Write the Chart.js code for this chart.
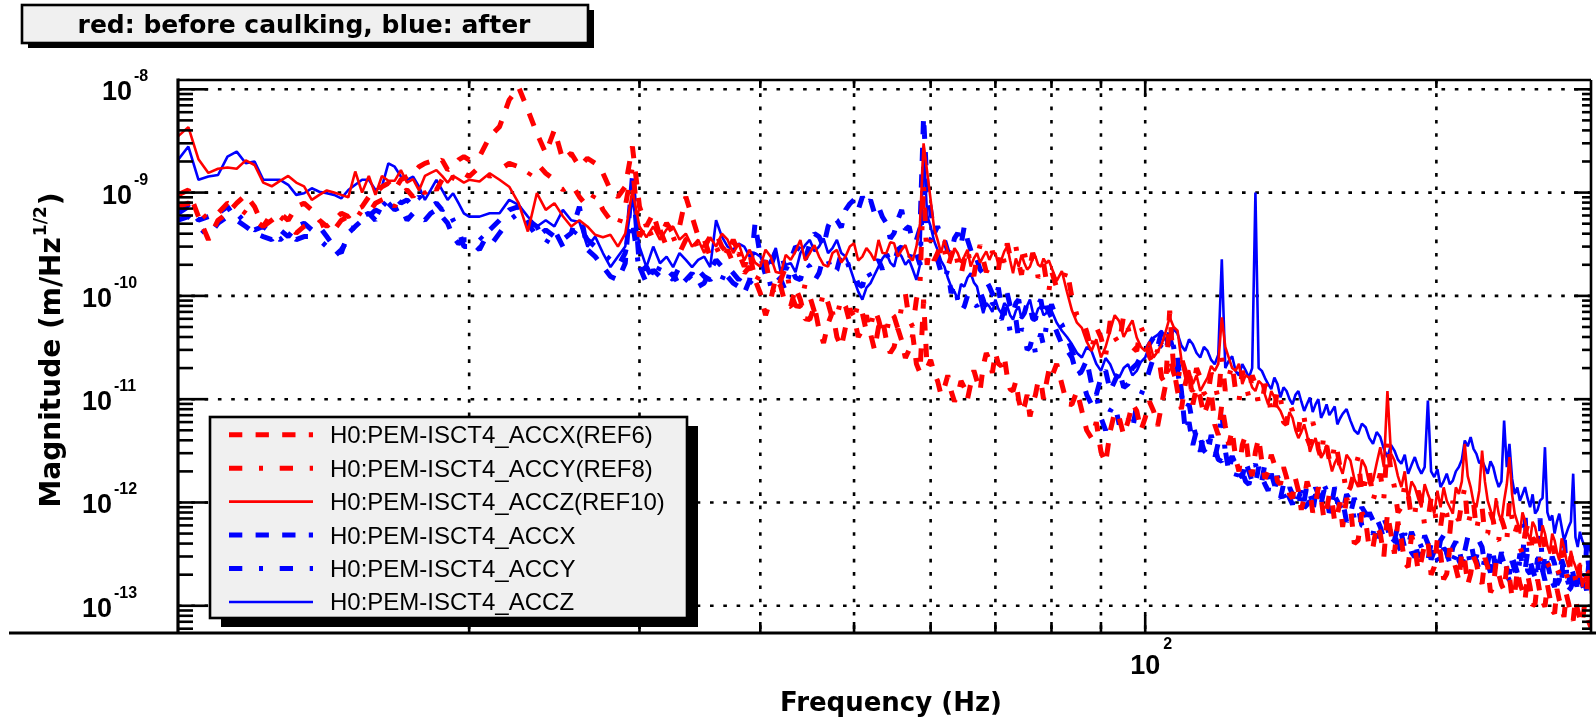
<!DOCTYPE html>
<html>
<head>
<meta charset="utf-8">
<script src="https://cdn.jsdelivr.net/npm/chart.js@4.4.1/dist/chart.umd.min.js"></script>
<style>
html,body{margin:0;padding:0;background:#ffffff;}
canvas{display:block;}
</style>
</head>
<body>
<canvas id="c" width="1596" height="722"></canvas>
<script>
// ---------- texts ----------
const titleText = "red: before caulking, blue: after";
const xTitle = "Frequency (Hz)";
const yTitleMain = "Magnitude (m/Hz";
const yTitleSup = "1/2";
const yTitleEnd = ")";
const legendLabels = [
  "H0:PEM-ISCT4_ACCX(REF6)",
  "H0:PEM-ISCT4_ACCY(REF8)",
  "H0:PEM-ISCT4_ACCZ(REF10)",
  "H0:PEM-ISCT4_ACCX",
  "H0:PEM-ISCT4_ACCY",
  "H0:PEM-ISCT4_ACCZ"
];

// ---------- axes ----------
const yDecades = [-8, -9, -10, -11, -12, -13];   // labelled y ticks 10^n
const xLabelDecades = [2];                       // labelled x ticks 10^n
const xGridHz = [20, 30, 40, 50, 60, 70, 80, 90, 100, 200];
const xRange = [10, 289];
const yRange = [5.45e-14, 1.23e-8];

// ---------- data: main frequency bins (Hz) ----------
const freqHz = [
 10,10.25,10.5,10.75,11,11.25,11.5,11.75,12,12.25,12.5,12.75,13,13.25,13.5,13.75,14,14.25,14.5,14.75,
 15,15.25,15.5,15.75,16,16.25,16.5,16.75,17,17.25,17.5,17.75,18,18.25,18.5,18.75,19,19.25,19.5,19.75,
 20,20.5,21,21.5,22,22.5,23,23.5,24,24.5,25,25.5,26,26.5,27,27.5,28,28.5,29,29.5,
 30,30.5,31,31.5,32,32.5,33,33.5,34,34.5,35,35.5,36,36.5,37,37.5,38,38.5,39,39.5,
 40,41,42,43,44,45,46,47,48,49,50,51,52,53,54,55,56,57,58,59,
 60,61,62,63,64,65,66,67,68,69,70,71,72,73,74,75,76,77,78,79,
 80,82,84,86,88,90,92,94,96,98,100,102,104,106,108,110,112,114,116,118,
 120,122,124,126,128,130,132,134,136,138,140,142,144,146,148,150,152,154,156,158,
 160,163,166,169,172,175,178,181,184,187,190,193,196,199,202,205,208,211,214,217,220,223,
 226,229,232,235,238,241,244,247,250,253,256,259,262,265,268,271,274,277,280,283,286,289
];
// ---------- data: extra in-between bins above 40 Hz (Hz) ----------
const freqMidHz = [
 40.5,41.5,42.5,43.5,44.5,45.5,46.5,47.5,48.5,49.5,50.5,51.5,52.5,53.5,54.5,55.5,56.5,57.5,58.5,59.5,
 60.5,61.5,62.5,63.5,64.5,65.5,66.5,67.5,68.5,69.5,70.5,71.5,72.5,73.5,74.5,75.5,76.5,77.5,78.5,79.5,
 81,83,85,87,89,91,93,95,97,99,101,103,105,107,109,111,113,115,117,119,
 121,123,125,127,129,131,133,135,137,139,141,143,145,147,149,151,153,155,157,159,
 161.5,164.5,167.5,170.5,173.5,176.5,179.5,182.5,185.5,188.5,191.5,194.5,197.5,200.5,203.5,206.5,209.5,212.5,215.5,218.5,221.5,
 224.5,227.5,230.5,233.5,236.5,239.5,242.5,245.5,248.5,251.5,254.5,257.5,260.5,263.5,266.5,269.5,272.5,275.5,278.5,281.5,284.5,287.5
];

// ---------- magnitudes (m/Hz^1/2) ----------
const redX = [
 9.5e-10,1.06e-9,5.85e-10,3.5e-10,5.4e-10,6.3e-10,7.9e-10,9.5e-10,7.3e-10,4.7e-10,5.4e-10,6.3e-10,5.4e-10,7.3e-10,7.9e-10,6.8e-10,5.4e-10,4.7e-10,5.4e-10,6.3e-10,
 5.85e-10,6.8e-10,7.3e-10,9.1e-10,9.85e-10,1.14e-9,1.23e-9,1.06e-9,1.33e-9,1.43e-9,1.54e-9,1.78e-9,1.92e-9,2.0e-9,1.92e-9,2.07e-9,1.66e-9,1.78e-9,2.07e-9,2.23e-9,
 2.07e-9,2.23e-9,3.48e-9,4.35e-9,7.9e-9,1.05e-8,6.3e-9,3.75e-9,2.4e-9,4.04e-9,2.07e-9,2.4e-9,1.78e-9,2.15e-9,1.92e-9,1.54e-9,1.06e-9,9.1e-10,1.14e-9,2.79e-9,
 7.3e-10,4.7e-10,6.3e-10,3.75e-10,5.05e-10,4.05e-10,4.7e-10,9.1e-10,5.85e-10,3.75e-10,3.0e-10,3.75e-10,4.05e-10,3.0e-10,2.6e-10,3.5e-10,2.6e-10,1.92e-10,2.6e-10,1.43e-10,
 1.06e-10,9.2e-11,1.23e-10,7.9e-11,9.2e-11,5.9e-11,4.7e-11,5.4e-11,4.0e-11,5.0e-11,6.3e-11,4.7e-11,4.3e-11,5.0e-11,3.7e-11,3.2e-11,3.7e-11,3.0e-11,2.2e-11,9.2e-11,
 2.4e-11,1.5e-11,1.3e-11,1.2e-11,1.1e-11,1.3e-11,1.4e-11,1.5e-11,2.1e-11,2.4e-11,2.8e-11,2.1e-11,1.65e-11,1.2e-11,9.8e-12,8.5e-12,6.8e-12,1.1e-11,1.5e-11,1.4e-11,
 1.62e-11,1.4e-11,8.9e-12,7.7e-12,4.2e-12,3.1e-12,4.9e-12,6.6e-12,6.1e-12,7.7e-12,6.6e-12,7.7e-12,8.9e-12,7.2e-11,1.2e-11,1.4e-11,8.9e-12,1.04e-11,8.9e-12,5.7e-12,
 8.9e-12,3.6e-12,2.7e-12,3.6e-12,2.35e-12,3.1e-12,2.5e-12,2.0e-12,2.35e-12,1.5e-12,1.75e-12,1.1e-12,1.3e-12,1.1e-12,1.3e-12,9.6e-13,1.1e-12,8.3e-13,1.03e-12,7.7e-13,
 5.8e-13,9.0e-13,4.3e-13,6.7e-13,3.7e-13,5.0e-13,7.8e-13,3.2e-13,4.3e-13,2.37e-13,3.7e-13,2.75e-13,4.3e-13,2.37e-13,3.2e-13,2.04e-13,2.97e-13,1.76e-13,2.75e-13,2.04e-13,2.56e-13,1.63e-13,
 2.37e-13,1.52e-13,2.04e-13,1.41e-13,1.9e-13,1.31e-13,1.63e-13,1.13e-13,1.52e-13,1.05e-13,1.31e-13,9.8e-14,1.21e-13,8.4e-14,1.13e-13,7.8e-14,1.05e-13,7.2e-14,9.0e-14,6.7e-14,8.4e-14,6.2e-14
];
const redXMid = [
 6.5e-11,1.5e-10,8.0e-11,1.2e-10,6.0e-11,8.0e-11,3.5e-11,7.0e-11,3.2e-11,7.5e-11,4.0e-11,6.5e-11,3.0e-11,6.0e-11,2.8e-11,4.8e-11,2.5e-11,4.2e-11,1.8e-11,2.0e-11,
 1.8e-11,1.1e-11,1.7e-11,9.5e-12,1.5e-11,1.0e-11,1.9e-11,1.2e-11,2.8e-11,1.8e-11,2.2e-11,2.6e-11,1.25e-11,1.5e-11,7.5e-12,1.1e-11,9.0e-12,1.5e-11,1.0e-11,1.9e-11,
 2.2e-11,9.0e-12,1.2e-11,5.0e-12,6.0e-12,2.4e-12,7.5e-12,4.5e-12,9.0e-12,5.0e-12,9.5e-12,5.5e-12,1.4e-11,2.0e-11,8.0e-12,2.0e-11,1.3e-11,7.0e-12,1.2e-11,4.5e-12,
 5.5e-12,5.0e-12,2.0e-12,4.5e-12,1.8e-12,4.2e-12,1.7e-12,2.9e-12,1.6e-12,2.2e-12,1.2e-12,1.7e-12,8.5e-13,1.6e-12,8.0e-13,1.4e-12,7.0e-13,1.2e-12,6.5e-13,1.0e-12,
 1.1e-12,4.0e-13,8.0e-13,3.5e-13,6.0e-13,3.0e-13,5.0e-13,6.5e-13,2.6e-13,4.8e-13,2.2e-13,4.0e-13,2.0e-13,4.5e-13,1.8e-13,3.6e-13,2.3e-13,3.3e-13,1.6e-13,3.0e-13,1.9e-13,
 2.9e-13,1.35e-13,2.6e-13,1.6e-13,2.4e-13,1.2e-13,2.2e-13,1.4e-13,2.0e-13,1.0e-13,1.8e-13,1.1e-13,1.6e-13,9.0e-14,1.45e-13,9.5e-14,1.3e-13,8.0e-14,1.15e-13,7.5e-14,1.0e-13,7.0e-14
];

const redY = [
 7.3e-10,7.9e-10,6.8e-10,5.4e-10,6.3e-10,7.9e-10,7.3e-10,6.3e-10,5.4e-10,4.7e-10,6.3e-10,5.85e-10,5.05e-10,4.05e-10,4.7e-10,5.05e-10,4.7e-10,5.05e-10,4.35e-10,5.4e-10,
 5.85e-10,5.4e-10,6.8e-10,6.3e-10,7.9e-10,8.5e-10,9.1e-10,7.3e-10,9.85e-10,1.06e-9,9.1e-10,1.14e-9,9.85e-10,1.23e-9,1.06e-9,1.33e-9,1.14e-9,1.43e-9,1.33e-9,1.54e-9,
 1.43e-9,1.78e-9,1.43e-9,1.66e-9,1.92e-9,1.78e-9,1.43e-9,1.92e-9,1.54e-9,1.33e-9,1.06e-9,1.23e-9,9.1e-10,7.3e-10,9.85e-10,6.8e-10,5.4e-10,4.7e-10,7.3e-10,1.78e-9,
 3.75e-10,5.05e-10,3.5e-10,4.35e-10,3.0e-10,3.75e-10,2.6e-10,3.5e-10,4.05e-10,2.8e-10,3.5e-10,2.4e-10,3.0e-10,2.23e-10,2.8e-10,2.07e-10,2.6e-10,1.66e-10,1.92e-10,1.33e-10,
 1.66e-10,1.23e-10,1.43e-10,1.06e-10,7.9e-11,9.9e-11,6.8e-11,8.5e-11,6.3e-11,7.9e-11,5.9e-11,6.8e-11,5.0e-11,5.9e-11,4.3e-11,6.3e-11,7.9e-11,5.9e-11,9.2e-11,1.23e-9,
 3.48e-10,2.59e-10,2.79e-10,2.4e-10,2.07e-10,2.23e-10,1.92e-10,2.4e-10,2.23e-10,1.92e-10,2.4e-10,2.79e-10,3.23e-10,2.4e-10,2.07e-10,2.59e-10,1.92e-10,2.23e-10,1.66e-10,1.43e-10,
 1.74e-10,1.3e-10,9.6e-11,6.2e-11,2.93e-11,3.95e-11,5.7e-11,3.4e-11,4.9e-11,2.93e-11,3.95e-11,2.18e-11,1.62e-11,2.53e-11,1.4e-11,1.88e-11,1.2e-11,1.62e-11,1.04e-11,1.4e-11,
 2.53e-11,1.62e-11,1.2e-11,1.88e-11,1.04e-11,1.4e-11,8.9e-12,1.2e-11,7.7e-12,1.04e-11,5.7e-12,7.7e-12,4.9e-12,6.6e-12,3.6e-12,4.9e-12,2.7e-12,3.6e-12,2.35e-12,3.1e-12,
 2.2e-12,1.41e-12,2.75e-12,1.63e-12,1.04e-12,1.9e-12,3.98e-12,1.41e-12,9.0e-13,1.21e-12,7.8e-13,1.04e-12,6.7e-13,9.0e-13,5.8e-13,7.8e-13,1.04e-12,6.7e-13,1.41e-12,7.8e-13,5.4e-13,9.0e-13,
 5.0e-13,6.7e-13,4.3e-13,5.8e-13,1.04e-12,5.0e-13,3.7e-13,5.0e-13,3.2e-13,4.3e-13,2.75e-13,3.7e-13,2.37e-13,3.2e-13,2.04e-13,2.75e-13,1.76e-13,2.37e-13,1.52e-13,1.9e-13,1.31e-13,1.52e-13
];
const redYMid = [
 2.2e-10,1.0e-10,1.9e-10,8.0e-11,1.3e-10,7.0e-11,1.1e-10,6.0e-11,9.5e-11,5.5e-11,8.5e-11,4.5e-11,7.5e-11,4.2e-11,7.0e-11,4.8e-11,1.05e-10,5.0e-11,1.3e-10,2.0e-10,
 2.2e-10,3.3e-10,1.9e-10,3.0e-10,1.6e-10,2.9e-10,1.55e-10,3.1e-10,1.7e-10,2.7e-10,1.8e-10,2.1e-10,2.4e-10,3.0e-10,1.6e-10,2.0e-10,2.6e-10,1.5e-10,2.1e-10,1.1e-10,
 1.2e-10,1.8e-10,6.5e-11,4.5e-11,5.0e-11,2.6e-11,4.0e-11,6.5e-11,3.2e-11,5.0e-11,2.6e-11,3.0e-11,1.4e-11,1.8e-11,2.5e-11,1.3e-11,2.0e-11,1.15e-11,1.8e-11,1.0e-11,
 1.2e-11,2.2e-11,9.5e-12,1.4e-11,1.7e-11,9.0e-12,1.4e-11,7.0e-12,1.25e-11,6.0e-12,9.0e-12,5.5e-12,7.5e-12,4.2e-12,6.0e-12,3.3e-12,4.5e-12,2.6e-12,3.8e-12,2.2e-12,
 1.2e-12,2.0e-12,1.2e-12,2.1e-12,1.4e-12,1.1e-12,2.0e-12,8.0e-13,1.5e-12,7.0e-13,1.3e-12,6.0e-13,1.1e-12,5.5e-13,9.5e-13,5.0e-13,7.5e-13,1.0e-12,6.0e-13,1.0e-12,7.5e-13,
 4.8e-13,8.0e-13,4.5e-13,7.0e-13,4.2e-13,7.0e-13,6.0e-13,3.2e-13,6.0e-13,4.5e-13,3.0e-13,4.6e-13,2.6e-13,3.8e-13,2.3e-13,3.4e-13,2.0e-13,3.0e-13,1.8e-13,2.6e-13,1.5e-13,2.2e-13
];

const redZ = [
 3.5e-9,4.3e-9,2.1e-9,1.55e-9,1.7e-9,1.75e-9,1.7e-9,2.05e-9,1.85e-9,1.25e-9,1.15e-9,1.3e-9,1.45e-9,1.25e-9,1.15e-9,8.5e-10,9.5e-10,1.05e-9,1.0e-9,9.5e-10,
 9.0e-10,1.6e-9,1.0e-9,1.45e-9,9.5e-10,1.45e-9,1.3e-9,1.3e-9,1.65e-9,1.25e-9,1.35e-9,1.05e-9,1.45e-9,1.55e-9,1.65e-9,1.45e-9,1.25e-9,1.45e-9,1.35e-9,1.25e-9,
 1.33e-9,1.28e-9,1.54e-9,1.33e-9,1.14e-9,7.9e-10,4.2e-10,9.9e-10,6.8e-10,7.9e-10,5.9e-10,4.7e-10,5.4e-10,4.7e-10,3.9e-10,3.7e-10,3.9e-10,3.0e-10,4.0e-10,1.06e-9,
 4.7e-10,3.7e-10,4.7e-10,3.5e-10,4.4e-10,4.7e-10,3.5e-10,4.0e-10,3.0e-10,3.5e-10,2.6e-10,3.7e-10,3.0e-10,4.0e-10,3.5e-10,2.6e-10,3.2e-10,2.2e-10,2.8e-10,2.1e-10,
 1.92e-10,2.4e-10,1.66e-10,2.23e-10,3.48e-10,2.59e-10,2.4e-10,1.92e-10,2.79e-10,2.4e-10,3.23e-10,2.4e-10,2.59e-10,3.48e-10,2.59e-10,3.23e-10,2.79e-10,2.4e-10,3.0e-10,3.0e-9,
 8.5e-10,3.48e-10,3.48e-10,2.23e-10,2.59e-10,2.4e-10,1.92e-10,2.59e-10,2.4e-10,2.23e-10,2.59e-10,2.23e-10,3.0e-10,1.66e-10,1.92e-10,2.07e-10,1.92e-10,2.4e-10,1.92e-10,2.07e-10,
 1.88e-10,1.74e-10,7.2e-11,4.9e-11,2.93e-11,2.53e-11,4.6e-11,5.7e-11,4.9e-11,3.95e-11,2.93e-11,2.53e-11,3.4e-11,6.2e-11,4.6e-11,1.62e-11,1.4e-11,1.2e-11,1.62e-11,1.88e-11,
 6.2e-11,2.53e-11,1.88e-11,1.4e-11,1.62e-11,1.2e-11,1.4e-11,8.9e-12,1.04e-11,7.7e-12,5.7e-12,6.6e-12,4.2e-12,5.7e-12,3.1e-12,4.2e-12,2.7e-12,3.6e-12,2.0e-12,2.7e-12,
 1.9e-12,2.55e-12,1.41e-12,2.2e-12,1.63e-12,3.43e-12,1.2e-11,2.55e-12,1.41e-12,1.04e-12,1.41e-12,9.0e-13,1.21e-12,7.8e-13,9.0e-13,1.04e-12,7.8e-13,1.21e-12,3.7e-12,1.41e-12,9.0e-13,3.18e-12,
 1.04e-12,6.7e-13,7.8e-13,1.04e-12,2.75e-12,7.8e-13,5.0e-13,6.7e-13,4.3e-13,5.8e-13,3.7e-13,5.0e-13,3.2e-13,4.3e-13,2.75e-13,3.7e-13,2.37e-13,2.75e-13,2.04e-13,1.52e-13,2.04e-13,1.31e-13
];
const redZMid = [
 2.8e-10,1.7e-10,2.5e-10,2.7e-10,2.2e-10,3.1e-10,2.0e-10,2.6e-10,2.1e-10,3.0e-10,2.2e-10,2.9e-10,2.2e-10,2.6e-10,3.3e-10,2.4e-10,3.1e-10,2.2e-10,5.0e-10,1.6e-9,
 4.5e-10,2.6e-10,2.7e-10,2.9e-10,2.1e-10,2.8e-10,2.3e-10,2.1e-10,2.7e-10,2.6e-10,2.0e-10,2.7e-10,2.2e-10,2.3e-10,2.5e-10,1.8e-10,2.3e-10,2.0e-10,2.3e-10,2.2e-10,
 1.4e-10,1.1e-10,5.5e-11,3.6e-11,3.8e-11,3.2e-11,6.5e-11,4.0e-11,5.8e-11,3.2e-11,3.6e-11,2.9e-11,4.5e-11,5.0e-11,2.4e-11,1.9e-11,1.7e-11,1.4e-11,2.1e-11,2.2e-11,
 3.2e-11,2.0e-11,2.2e-11,1.7e-11,1.3e-11,1.5e-11,1.1e-11,1.2e-11,8.5e-12,6.5e-12,7.5e-12,5.0e-12,4.8e-12,4.5e-12,3.7e-12,3.3e-12,3.0e-12,2.6e-12,2.4e-12,2.2e-12,
 2.9e-12,1.7e-12,2.6e-12,1.5e-12,2.4e-12,2.2e-12,3.0e-12,1.8e-12,2.0e-12,1.6e-12,1.1e-12,1.5e-12,1.0e-12,1.3e-12,1.4e-12,9.0e-13,1.4e-12,1.6e-12,1.8e-12,1.0e-12,1.3e-12,
 1.6e-12,8.5e-13,1.1e-12,6.5e-13,1.5e-12,1.2e-12,6.5e-13,8.0e-13,5.0e-13,6.5e-13,4.5e-13,6.0e-13,3.8e-13,5.0e-13,3.3e-13,4.5e-13,2.8e-13,3.4e-13,2.4e-13,2.6e-13,1.8e-13,2.2e-13
];

const blueX = [
 6.3e-10,7.3e-10,5.4e-10,5.85e-10,6.3e-10,7.3e-10,5.4e-10,4.7e-10,4.05e-10,3.75e-10,3.5e-10,4.35e-10,3.75e-10,4.7e-10,5.05e-10,4.35e-10,4.7e-10,3.75e-10,3.0e-10,2.6e-10,
 4.05e-10,4.7e-10,5.4e-10,5.85e-10,6.8e-10,6.3e-10,7.9e-10,6.8e-10,7.3e-10,5.4e-10,6.3e-10,5.85e-10,5.4e-10,6.3e-10,6.8e-10,5.85e-10,5.05e-10,3.75e-10,3.2e-10,3.5e-10,
 3.5e-10,2.8e-10,4.35e-10,5.4e-10,6.8e-10,7.3e-10,5.05e-10,3.75e-10,4.35e-10,3.75e-10,3.5e-10,4.05e-10,7.3e-10,2.8e-10,2.4e-10,1.92e-10,1.54e-10,1.43e-10,2.07e-10,1.43e-9,
 1.92e-10,1.33e-10,1.78e-10,1.54e-10,1.43e-10,1.66e-10,1.23e-10,1.43e-10,1.66e-10,1.23e-10,1.33e-10,1.78e-10,2.23e-10,1.92e-10,1.54e-10,1.33e-10,1.23e-10,1.06e-10,1.43e-10,5.05e-10,
 2.4e-10,1.92e-10,2.59e-10,2.23e-10,2.79e-10,3.23e-10,3.75e-10,4.7e-10,5.4e-10,6.8e-10,8.5e-10,9.1e-10,8.5e-10,7.3e-10,5.05e-10,4.05e-10,6.8e-10,4.7e-10,3.48e-10,5.43e-9,
 6.8e-10,4.7e-10,3.48e-10,2.59e-10,4.05e-10,4.7e-10,2.79e-10,2.23e-10,1.66e-10,1.23e-10,9.2e-11,7.9e-11,1.06e-10,6.8e-11,9.2e-11,6.8e-11,7.9e-11,5.9e-11,9.2e-11,7.9e-11,
 6.2e-11,3.4e-11,2.53e-11,1.88e-11,1.4e-11,1.62e-11,1.2e-11,1.88e-11,1.4e-11,2.18e-11,2.93e-11,3.95e-11,4.6e-11,3.95e-11,2.53e-11,4.9e-12,3.6e-12,4.2e-12,2.9e-12,3.4e-12,
 2.5e-12,2.0e-12,2.35e-12,1.75e-12,2.0e-12,1.5e-12,1.75e-12,1.3e-12,1.5e-12,1.1e-12,1.3e-12,9.6e-13,1.1e-12,8.9e-13,1.03e-12,1.2e-12,9.6e-13,1.1e-12,8.9e-13,1.03e-12,
 1.04e-12,7.8e-13,9.0e-13,5.8e-13,6.7e-13,5.0e-13,5.8e-13,4.3e-13,5.0e-13,3.7e-13,4.3e-13,3.2e-13,4.0e-13,3.4e-13,4.3e-13,3.2e-13,3.7e-13,2.75e-13,3.4e-13,4.3e-13,2.97e-13,3.7e-13,
 2.56e-13,3.2e-13,2.37e-13,2.75e-13,2.04e-13,2.56e-13,3.2e-13,2.2e-13,2.75e-13,1.9e-13,2.37e-13,3.2e-13,2.04e-13,2.56e-13,1.76e-13,2.37e-13,1.63e-13,2.04e-13,1.52e-13,1.9e-13,1.41e-13,1.76e-13
];
const blueXMid = [
 1.6e-10,2.7e-10,1.8e-10,3.0e-10,2.2e-10,4.0e-10,3.0e-10,5.8e-10,4.6e-10,7.8e-10,6.8e-10,7.5e-10,6.3e-10,5.8e-10,3.6e-10,5.5e-10,4.4e-10,3.3e-10,4.5e-10,1.1e-9,
 4.0e-10,3.8e-10,2.7e-10,3.6e-10,3.1e-10,3.5e-10,2.2e-10,1.8e-10,1.4e-10,1.05e-10,1.2e-10,6.5e-11,8.0e-11,8.5e-11,6.2e-11,8.5e-11,6.0e-11,8.2e-11,6.5e-11,7.0e-11,
 4.5e-11,3.0e-11,1.7e-11,2.4e-11,1.1e-11,1.9e-11,1.5e-11,1.3e-11,2.0e-11,2.6e-11,3.4e-11,3.2e-11,3.6e-11,2.9e-11,1.2e-11,6.0e-12,5.0e-12,3.2e-12,4.5e-12,2.6e-12,
 3.2e-12,2.8e-12,1.9e-12,2.5e-12,1.6e-12,2.2e-12,1.5e-12,1.9e-12,1.2e-12,1.5e-12,1.1e-12,1.25e-12,1.3e-12,9.5e-13,8.0e-13,1.1e-12,1.3e-12,8.0e-13,1.15e-12,9.0e-13,
 6.5e-13,1.1e-12,6.0e-13,8.0e-13,4.6e-13,7.0e-13,4.0e-13,6.0e-13,3.6e-13,5.2e-13,3.0e-13,4.8e-13,2.8e-13,3.0e-13,4.8e-13,2.6e-13,4.2e-13,2.4e-13,4.6e-13,3.0e-13,4.2e-13,
 2.4e-13,3.6e-13,2.1e-13,3.3e-13,2.3e-13,2.9e-13,2.1e-13,2.5e-13,3.3e-13,2.2e-13,2.9e-13,2.0e-13,2.6e-13,3.0e-13,1.6e-13,2.8e-13,1.9e-13,2.4e-13,1.4e-13,2.2e-13,1.7e-13,2.6e-13
];

const blueY = [
 5.4e-10,5.85e-10,4.7e-10,3.75e-10,5.05e-10,5.85e-10,6.3e-10,5.05e-10,4.35e-10,4.7e-10,4.05e-10,3.5e-10,4.05e-10,3.5e-10,3.75e-10,3.75e-10,3.5e-10,3.0e-10,2.4e-10,2.8e-10,
 3.5e-10,5.05e-10,5.85e-10,6.3e-10,5.4e-10,7.3e-10,8.5e-10,9.15e-10,7.9e-10,8.5e-10,7.3e-10,9.15e-10,7.9e-10,7.3e-10,7.9e-10,6.8e-10,7.3e-10,5.4e-10,4.35e-10,3.0e-10,
 3.0e-10,3.75e-10,3.0e-10,4.05e-10,5.4e-10,6.3e-10,5.4e-10,4.7e-10,3.2e-10,4.35e-10,3.0e-10,3.75e-10,4.7e-10,3.5e-10,3.0e-10,2.6e-10,2.23e-10,1.92e-10,2.6e-10,5.4e-10,
 1.66e-10,1.92e-10,1.43e-10,1.92e-10,1.66e-10,1.43e-10,1.92e-10,1.66e-10,1.43e-10,1.78e-10,1.54e-10,1.43e-10,1.66e-10,1.43e-10,1.92e-10,1.66e-10,1.43e-10,1.66e-10,1.33e-10,1.54e-10,
 1.66e-10,1.23e-10,1.43e-10,1.92e-10,1.43e-10,1.92e-10,1.66e-10,2.23e-10,1.79e-10,2.4e-10,1.66e-10,1.23e-10,1.54e-10,2.23e-10,2.59e-10,2.07e-10,3.0e-10,2.23e-10,2.59e-10,1.78e-9,
 3.48e-10,2.23e-10,1.43e-10,1.06e-10,9.2e-11,7.9e-11,1.06e-10,7.9e-11,9.2e-11,6.8e-11,7.9e-11,5.9e-11,6.8e-11,5.0e-11,3.7e-11,4.3e-11,3.2e-11,2.8e-11,4.3e-11,5.0e-11,
 8.3e-11,5.3e-11,2.93e-11,1.62e-11,8.9e-12,6.6e-12,7.7e-12,5.7e-12,6.6e-12,8.9e-12,1.4e-11,2.53e-11,3.4e-11,4.6e-11,1.88e-11,7.7e-12,5.7e-12,3.1e-12,4.2e-12,2.7e-12,
 7.7e-12,2.35e-12,1.75e-12,2.0e-12,1.5e-12,2.35e-12,1.6e-12,1.9e-12,1.3e-12,1.5e-12,1.03e-12,1.2e-12,8.9e-13,1.03e-12,1.2e-12,1.4e-12,1.1e-12,1.3e-12,1.0e-12,1.2e-12,
 7.8e-13,1.04e-12,6.7e-13,7.8e-13,5.0e-13,5.8e-13,4.3e-13,5.0e-13,3.4e-13,4.3e-13,2.97e-13,3.7e-13,2.75e-13,3.2e-13,2.56e-13,3.4e-13,2.75e-13,3.7e-13,2.97e-13,2.37e-13,2.75e-13,2.04e-13,
 2.56e-13,3.2e-13,2.2e-13,2.56e-13,1.76e-13,2.2e-13,2.75e-13,8.0e-13,2.04e-13,2.37e-13,7.0e-13,1.76e-13,2.2e-13,1.52e-13,1.9e-13,5.0e-13,1.41e-13,1.76e-13,1.31e-13,1.63e-13,4.0e-13,1.52e-13
];
const blueYMid = [
 2.2e-10,1.6e-10,1.1e-10,1.5e-10,2.1e-10,1.4e-10,2.4e-10,1.6e-10,2.6e-10,1.8e-10,1.3e-10,1.8e-10,2.0e-10,1.8e-10,2.1e-10,2.8e-10,2.3e-10,3.0e-10,2.0e-10,3.6e-10,
 2.6e-10,1.7e-10,1.8e-10,1.3e-10,7.0e-11,1.0e-10,8.5e-11,1.1e-10,7.0e-11,8.5e-11,6.5e-11,7.5e-11,4.5e-11,6.0e-11,4.8e-11,3.0e-11,4.0e-11,3.6e-11,3.3e-11,6.2e-11,
 6.0e-11,4.0e-11,2.2e-11,1.1e-11,1.1e-11,5.0e-12,9.0e-12,7.5e-12,5.0e-12,1.1e-11,1.9e-11,3.0e-11,2.8e-11,3.2e-11,1.1e-11,9.0e-12,4.2e-12,4.8e-12,3.3e-12,3.8e-12,
 3.0e-12,2.8e-12,2.2e-12,1.6e-12,2.0e-12,1.8e-12,2.4e-12,1.5e-12,1.8e-12,1.2e-12,1.4e-12,9.5e-13,1.3e-12,1.5e-12,1.0e-12,1.2e-12,1.5e-12,1.1e-12,1.4e-12,9.0e-13,
 1.2e-12,7.0e-13,9.0e-13,5.5e-13,7.0e-13,4.4e-13,6.0e-13,3.8e-13,5.0e-13,3.3e-13,4.4e-13,3.0e-13,4.0e-13,2.8e-13,3.6e-13,2.4e-13,3.2e-13,2.6e-13,3.5e-13,3.0e-13,2.2e-13,
 3.0e-13,2.1e-13,2.6e-13,3.1e-13,2.0e-13,2.7e-13,1.9e-13,2.4e-13,2.2e-13,2.8e-13,1.8e-13,2.2e-13,2.6e-13,1.7e-13,2.4e-13,1.6e-13,2.2e-13,1.5e-13,2.1e-13,1.8e-13,1.4e-13,2.3e-13
];

const blueZ = [
 2.07e-9,2.79e-9,1.33e-9,1.43e-9,1.48e-9,2.23e-9,2.49e-9,1.92e-9,2.0e-9,1.33e-9,1.33e-9,1.33e-9,1.19e-9,9.5e-10,9.85e-10,1.1e-9,1.02e-9,9.85e-10,9.5e-10,8.8e-10,
 1.06e-9,1.19e-9,1.33e-9,1.33e-9,1.06e-9,1.14e-9,1.92e-9,1.78e-9,1.43e-9,1.33e-9,1.43e-9,1.14e-9,8.5e-10,1.06e-9,1.33e-9,1.06e-9,8.5e-10,9.85e-10,7.9e-10,6.3e-10,
 5.85e-10,5.85e-10,6.3e-10,6.3e-10,8.5e-10,7.6e-10,5.85e-10,4.7e-10,5.4e-10,4.7e-10,6.8e-10,5.4e-10,5.2e-10,3.0e-10,3.75e-10,2.6e-10,1.9e-10,2.4e-10,3.0e-10,9.0e-10,
 3.0e-10,1.9e-10,3.0e-10,2.07e-10,2.4e-10,1.9e-10,2.6e-10,2.23e-10,1.9e-10,2.23e-10,2.4e-10,1.9e-10,5.4e-10,3.75e-10,3.0e-10,2.8e-10,3.2e-10,3.0e-10,2.4e-10,2.6e-10,
 2.4e-10,2.23e-10,1.66e-10,2.07e-10,2.59e-10,3.48e-10,3.0e-10,2.59e-10,3.48e-10,2.4e-10,1.43e-10,9.2e-11,1.33e-10,1.92e-10,2.59e-10,1.92e-10,2.4e-10,2.23e-10,1.43e-10,2.8e-9,
 4.7e-10,2.79e-10,1.92e-10,1.23e-10,9.2e-11,1.23e-10,1.66e-10,1.23e-10,6.8e-11,7.9e-11,9.2e-11,6.8e-11,7.9e-11,5.9e-11,7.9e-11,6.8e-11,9.2e-11,6.3e-11,7.9e-11,6.8e-11,
 7.2e-11,4.6e-11,3.4e-11,2.53e-11,2.93e-11,1.88e-11,2.18e-11,1.62e-11,2.18e-11,1.88e-11,2.53e-11,3.95e-11,4.6e-11,3.4e-11,4.3e-11,2.93e-11,3.4e-11,2.53e-11,2.93e-11,2.18e-11,
 2.26e-10,2.35e-11,1.88e-11,2.18e-11,1.62e-11,1.0e-9,1.88e-11,1.4e-11,1.62e-11,1.04e-11,1.2e-11,8.9e-12,1.2e-11,7.7e-12,1.04e-11,8.9e-12,6.6e-12,8.9e-12,7.7e-12,5.7e-12,
 7.2e-12,6.2e-12,4.6e-12,5.35e-12,3.7e-12,4.3e-12,2.75e-12,3.18e-12,2.37e-12,1.9e-12,2.75e-12,1.9e-12,9.7e-12,1.76e-12,1.41e-12,1.9e-12,1.63e-12,2.2e-12,3.98e-12,4.3e-12,2.96e-12,2.55e-12,
 1.9e-12,2.2e-12,1.41e-12,6.2e-12,3.7e-12,1.21e-12,1.04e-12,1.41e-12,9.0e-13,7.8e-13,1.04e-12,3.43e-12,6.7e-13,5.0e-13,7.8e-13,4.3e-13,5.8e-13,1.9e-12,3.7e-13,4.3e-13,3.2e-13,3.2e-13
];
const blueZMid = [
 1.8e-10,2.9e-10,2.0e-10,1.7e-10,3.1e-10,2.7e-10,3.6e-10,2.9e-10,2.6e-10,1.9e-10,1.1e-10,1.2e-10,1.6e-10,2.3e-10,2.1e-10,2.7e-10,2.0e-10,1.8e-10,2.0e-10,6.0e-10,
 3.4e-10,2.2e-10,1.5e-10,1.1e-10,1.3e-10,1.5e-10,1.35e-10,9.0e-11,8.5e-11,7.0e-11,7.5e-11,8.5e-11,6.5e-11,7.2e-11,6.0e-11,8.0e-11,7.0e-11,7.5e-11,6.5e-11,8.0e-11,
 5.5e-11,4.0e-11,2.8e-11,3.2e-11,2.2e-11,2.5e-11,1.7e-11,2.0e-11,1.7e-11,2.3e-11,3.3e-11,4.2e-11,3.7e-11,4.8e-11,3.3e-11,3.8e-11,2.8e-11,3.2e-11,2.4e-11,2.7e-11,
 2.0e-11,2.6e-11,1.7e-11,1.9e-11,2.0e-11,2.0e-11,1.6e-11,1.25e-11,1.4e-11,1.3e-11,1.0e-11,1.1e-11,9.5e-12,9.0e-12,7.5e-12,1.0e-11,7.5e-12,7.0e-12,8.5e-12,6.5e-12,
 8.0e-12,5.0e-12,5.8e-12,4.2e-12,4.8e-12,3.3e-12,3.6e-12,2.6e-12,2.9e-12,2.3e-12,2.2e-12,2.2e-12,2.0e-12,2.1e-12,1.6e-12,1.5e-12,2.0e-12,2.6e-12,3.5e-12,3.3e-12,2.4e-12,
 2.2e-12,2.5e-12,1.7e-12,1.6e-12,2.2e-12,1.7e-12,1.4e-12,1.2e-12,1.1e-12,1.2e-12,8.5e-13,1.1e-12,8.0e-13,7.5e-13,6.5e-13,5.8e-13,5.0e-13,6.5e-13,4.6e-13,5.2e-13,3.8e-13,4.0e-13
];

// ---------- styles ----------
const RED = '#ff0000', BLUE = '#0000ff';
const DASH = [13.3, 13.3];
const DASHDOT = [13.3, 16.7, 4, 16.7];

function pts(vals, midVals) {
  const p = freqHz.map((f, i) => ({ x: f, y: vals[i] }))
    .concat(freqMidHz.map((f, i) => ({ x: f, y: midVals[i] })));
  p.sort((a, b) => a.x - b.x);
  return p;
}

const seriesDefs = [
  { label: legendLabels[0], vals: redX,  mid: redXMid,  color: RED,  width: 5,   dash: DASH },
  { label: legendLabels[1], vals: redY,  mid: redYMid,  color: RED,  width: 5,   dash: DASHDOT },
  { label: legendLabels[2], vals: redZ,  mid: redZMid,  color: RED,  width: 2.6, dash: [] },
  { label: legendLabels[3], vals: blueX, mid: blueXMid, color: BLUE, width: 5,   dash: DASH },
  { label: legendLabels[4], vals: blueY, mid: blueYMid, color: BLUE, width: 5,   dash: DASHDOT },
  { label: legendLabels[5], vals: blueZ, mid: blueZMid, color: BLUE, width: 2.6, dash: [] }
];

const FONT_T = '"DejaVu Sans", "Liberation Sans", sans-serif';
const FONT_L = '"Liberation Sans", Arial, sans-serif';

function line(ctx, x1, y1, x2, y2) { ctx.beginPath(); ctx.moveTo(x1, y1); ctx.lineTo(x2, y2); ctx.stroke(); }

const rootDecor = {
  id: 'rootDecor',
  beforeDatasetsDraw(chart) {
    const ctx = chart.ctx, xs = chart.scales.x, ys = chart.scales.y, a = chart.chartArea;
    ctx.save();
    ctx.strokeStyle = '#000';
    ctx.lineWidth = 2.6;
    ctx.setLineDash([3.6, 9.7]);
    yDecades.forEach(e => {
      const py = ys.getPixelForValue(Math.pow(10, e));
      line(ctx, a.left, py, a.right, py);
    });
    xGridHz.forEach(f => {
      const px = xs.getPixelForValue(f);
      line(ctx, px, a.top, px, a.bottom);
    });
    ctx.restore();
  },
  afterDatasetsDraw(chart) {
    const ctx = chart.ctx, xs = chart.scales.x, ys = chart.scales.y, a = chart.chartArea;
    ctx.save();
    ctx.setLineDash([]);
    ctx.strokeStyle = '#000';
    ctx.fillStyle = '#000';
    // frame
    ctx.lineWidth = 2.6;
    line(ctx, a.left, a.top, a.right, a.top);
    line(ctx, a.right, a.top, a.right, a.bottom);
    ctx.lineWidth = 3.2;
    line(ctx, a.left, a.top - 1.5, a.left, a.bottom);
    line(ctx, 9, a.bottom, chart.width, a.bottom);

    // y ticks (left & right)
    ctx.lineWidth = 2.6;
    for (let e = -14; e <= -8; e++) {
      for (let m = 1; m <= 9; m++) {
        const v = m * Math.pow(10, e);
        if (v < yRange[0] || v > yRange[1]) continue;
        const py = ys.getPixelForValue(v);
        const major = (m === 1);
        line(ctx, a.left, py, a.left + (major ? 30 : 15), py);
        line(ctx, a.right, py, a.right - (major ? 17 : 9), py);
      }
    }
    // x ticks (bottom & top)
    for (let e = 1; e <= 2; e++) {
      for (let m = 1; m <= 9; m++) {
        const f = m * Math.pow(10, e);
        if (f <= xRange[0] || f >= xRange[1]) continue;
        const px = xs.getPixelForValue(f);
        const major = (m === 1);
        line(ctx, px, a.bottom, px, a.bottom - (major ? 18 : 11));
        line(ctx, px, a.top, px, a.top + (major ? 16 : 8));
      }
    }

    // y tick labels 10^n
    ctx.textBaseline = 'alphabetic';
    yDecades.forEach(e => {
      const py = ys.getPixelForValue(Math.pow(10, e));
      const expStr = String(e);
      const baseRight = expStr.length > 2 ? 112 : 132;
      ctx.font = 'bold 27px ' + FONT_L;
      ctx.textAlign = 'right';
      ctx.fillText('10', baseRight, py + 11);
      ctx.font = 'bold 16px ' + FONT_L;
      ctx.textAlign = 'left';
      ctx.fillText(expStr, baseRight + 2, py - 8);
    });
    // x tick labels 10^n
    xLabelDecades.forEach(e => {
      const px = xs.getPixelForValue(Math.pow(10, e));
      ctx.font = 'bold 27px ' + FONT_L;
      ctx.textAlign = 'center';
      ctx.fillText('10', px, 674);
      const w = ctx.measureText('10').width;
      ctx.font = 'bold 16px ' + FONT_L;
      ctx.textAlign = 'left';
      ctx.fillText(String(e), px + w / 2 + 3, 649);
    });

    // x title
    ctx.font = 'bold 26px ' + FONT_T;
    ctx.textAlign = 'center';
    ctx.fillText(xTitle, 891, 711);

    // y title (rotated, with superscript)
    ctx.save();
    ctx.translate(60, 350);
    ctx.rotate(-Math.PI / 2);
    ctx.textAlign = 'left';
    ctx.font = 'bold 28px ' + FONT_T;
    const wMain = ctx.measureText(yTitleMain).width;
    const wEnd = ctx.measureText(yTitleEnd).width;
    ctx.font = 'bold 17px ' + FONT_T;
    const wSup = ctx.measureText(yTitleSup).width;
    const x0 = -(wMain + wSup + wEnd + 2) / 2;
    ctx.font = 'bold 28px ' + FONT_T;
    ctx.fillText(yTitleMain, x0, 0);
    ctx.font = 'bold 17px ' + FONT_T;
    ctx.fillText(yTitleSup, x0 + wMain + 1, -14);
    ctx.font = 'bold 28px ' + FONT_T;
    ctx.fillText(yTitleEnd, x0 + wMain + wSup + 2, 0);
    ctx.restore();

    // title box
    const tb = { x: 22, y: 5, w: 566, h: 38 };
    ctx.fillStyle = '#000';
    ctx.fillRect(tb.x + 6, tb.y + 5, tb.w, tb.h);
    ctx.fillStyle = '#f0f0f0';
    ctx.fillRect(tb.x, tb.y, tb.w, tb.h);
    ctx.lineWidth = 2.6;
    ctx.strokeRect(tb.x, tb.y, tb.w, tb.h);
    ctx.fillStyle = '#000';
    ctx.font = 'bold 25px ' + FONT_T;
    ctx.textAlign = 'center';
    ctx.fillText(titleText, 304, 33);

    // legend box
    const lb = { x: 210, y: 417, w: 477, h: 201 };
    ctx.fillStyle = '#000';
    ctx.fillRect(lb.x + 11, lb.y + 9, lb.w, lb.h);
    ctx.fillStyle = '#f0f0f0';
    ctx.fillRect(lb.x, lb.y, lb.w, lb.h);
    ctx.lineWidth = 2.6;
    ctx.strokeStyle = '#000';
    ctx.strokeRect(lb.x, lb.y, lb.w, lb.h);
    chart.data.datasets.forEach((ds, i) => {
      const ry = 434.7 + i * 33.45;
      ctx.save();
      ctx.strokeStyle = ds.borderColor;
      ctx.lineWidth = ds.borderWidth;
      ctx.setLineDash(ds.borderDash || []);
      ctx.lineDashOffset = 0;
      line(ctx, 229, ry, 313, ry);
      ctx.restore();
      ctx.fillStyle = '#000';
      ctx.font = '24px ' + FONT_L;
      ctx.textAlign = 'left';
      ctx.fillText(ds.label, 330, ry + 8.5);
    });
    ctx.restore();
  }
};

new Chart(document.getElementById('c'), {
  type: 'line',
  data: {
    datasets: seriesDefs.map(s => ({
      label: s.label,
      data: pts(s.vals, s.mid),
      borderColor: s.color,
      backgroundColor: s.color,
      borderWidth: s.width,
      borderDash: s.dash,
      borderJoinStyle: 'bevel',
      pointRadius: 0,
      tension: 0,
      fill: false
    }))
  },
  options: {
    responsive: false,
    animation: false,
    devicePixelRatio: 1,
    layout: { padding: { left: 178, top: 80, right: 5, bottom: 89 } },
    plugins: { legend: { display: false }, title: { display: false }, tooltip: { enabled: false } },
    events: [],
    scales: {
      x: { type: 'logarithmic', min: xRange[0], max: xRange[1], display: false },
      y: { type: 'logarithmic', min: yRange[0], max: yRange[1], display: false }
    }
  },
  plugins: [rootDecor]
});
</script>
</body>
</html>
